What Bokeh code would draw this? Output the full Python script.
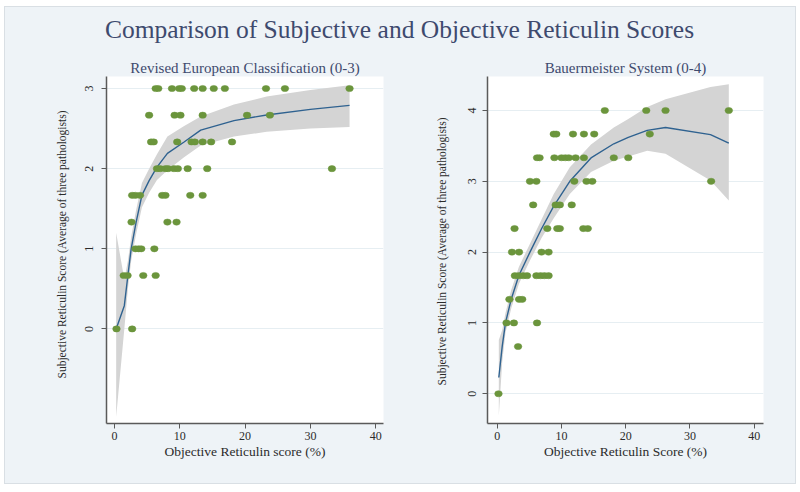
from bokeh.plotting import figure
from bokeh.layouts import column, row
from bokeh.models import ColumnDataSource, Title, Range1d, FixedTicker
from bokeh.embed import file_html
from bokeh.resources import INLINE
from bokeh.core.properties import value

# ---------------- texts ----------------
main_title = "Comparison of Subjective and Objective Reticulin Scores"
left_title = "Revised European Classification (0-3)"
right_title = "Bauermeister System (0-4)"
y_label = "Subjective Reticulin Score (Average of three pathologists)"
left_x_label = "Objective Reticulin score (%)"
right_x_label = "Objective Reticulin Score (%)"

x_ticks = [0, 10, 20, 30, 40]
left_y_ticks = [0, 1, 2, 3]
right_y_ticks = [0, 1, 2, 3, 4]

# ---------------- left panel data (Revised European, 0-3) ----------------
left_x = [6.3, 6.7, 8.8, 9.9, 10.3, 12.2, 13.5, 15.2, 16.9, 23.2, 26.1, 36.0,
          5.3, 9.2, 10.1, 13.5, 20.3, 23.8,
          5.6, 6.0, 9.6, 11.8, 12.3, 13.5, 14.8, 18.0,
          6.5, 7.0, 7.8, 8.2, 9.1, 9.7, 11.2, 14.2, 33.3,
          2.7, 3.2, 3.9, 7.3, 7.8, 11.6, 13.5,
          2.6, 8.1, 9.5,
          3.2, 3.7, 4.1, 6.1,
          1.4, 2.0, 4.4, 6.3,
          0.3, 2.7]
left_y = [3.0] * 12 + [2.667] * 6 + [2.333] * 8 + [2.0] * 9 + [1.667] * 7 + \
         [1.333] * 3 + [1.0] * 4 + [0.667] * 4 + [0.0] * 2

left_fit_x = [0.25, 1.5, 2.05, 2.55, 3.3, 4.2, 5.3, 6.5, 8.1, 10.6, 13.2, 18.3, 23.3, 30.0, 36.0]
left_fit_y = [0.0, 0.29, 0.67, 1.0, 1.33, 1.67, 1.85, 2.02, 2.19, 2.33, 2.48, 2.60, 2.67, 2.74, 2.79]
left_ci_lo = [-1.1, 0.0, 0.5, 0.85, 1.18, 1.52, 1.70, 1.86, 1.98, 2.14, 2.29, 2.40, 2.46, 2.50, 2.52]
left_ci_hi = [1.2, 0.62, 0.85, 1.15, 1.48, 1.82, 2.0, 2.18, 2.40, 2.53, 2.65, 2.80, 2.90, 2.98, 3.04]

# ---------------- right panel data (Bauermeister, 0-4) ----------------
right_x = [16.75, 23.2, 26.2, 36.05,
           8.8, 9.2, 11.8, 13.5, 15.1, 23.75,
           6.2, 6.6, 8.9, 10.0, 10.6, 11.15, 12.2, 13.5, 18.15, 20.4,
           5.1, 6.1, 12.0, 13.9, 14.8, 33.3,
           5.6, 9.1, 9.75, 11.6,
           2.7, 7.8, 9.35, 9.75, 13.4, 14.1,
           2.3, 3.4, 6.9, 8.0,
           2.75, 3.35, 4.05, 4.65, 6.1, 6.75, 7.35, 8.0,
           1.9, 3.4, 3.9,
           1.45, 2.6, 6.2,
           3.25,
           0.2]
right_y = [4.0] * 4 + [3.667] * 6 + [3.333] * 10 + [3.0] * 6 + [2.667] * 4 + \
          [2.333] * 6 + [2.0] * 4 + [1.667] * 8 + [1.333] * 3 + [1.0] * 3 + \
          [0.667] * 1 + [0.0] * 1

right_fit_x = [0.25, 0.78, 1.29, 2.17, 3.37, 5.1, 6.9, 8.8, 11.3, 14.6, 18.15, 20.4, 23.35, 26.2, 33.2, 36.05]
right_fit_y = [0.23, 0.67, 1.0, 1.33, 1.67, 2.0, 2.33, 2.65, 3.0, 3.33, 3.53, 3.62, 3.72, 3.76, 3.66, 3.54]
right_ci_lo = [-0.31, 0.45, 0.86, 1.2, 1.55, 1.88, 2.2, 2.48, 2.82, 3.13, 3.29, 3.35, 3.43, 3.39, 3.01, 2.73]
right_ci_hi = [0.76, 0.9, 1.14, 1.46, 1.79, 2.12, 2.46, 2.82, 3.2, 3.52, 3.76, 3.88, 4.05, 4.16, 4.33, 4.37]

# ---------------- style ----------------
BG = "#eef3f7"
SERIF = "Liberation Serif"
TITLE_COLOR = "#3e4a6e"
TEXT_COLOR = "#2b2b2b"
AXIS_COLOR = "#5a5a5a"
BAND_COLOR = "#d4d4d4"
LINE_COLOR = "#2f6290"
DOT_COLOR = "#6b953c"
GRID_COLOR = "#e6eef2"

# ---------------- title strip ----------------
top = figure(width=790, height=43, x_range=Range1d(0, 790), y_range=Range1d(0, 43),
             output_backend="svg", toolbar_location=None, min_border=0)
top.axis.visible = False
top.grid.visible = False
top.outline_line_color = None
top.background_fill_color = BG
top.border_fill_color = BG
top.text(x=[394], y=[21], text=[main_title], text_font=value(SERIF),
         text_font_size="25.5px", text_color=TITLE_COLOR,
         text_align="center", text_baseline="middle")


def make_panel(xs, ys, fx, fy, lo, hi, xr, yr, yticks, xlabel, ptitle,
               border_left, border_right, ylab_offset, ylab_standoff, tick_standoff):
    p = figure(width=395, height=433, x_range=Range1d(*xr), y_range=Range1d(*yr),
               output_backend="svg", toolbar_location=None,
               min_border_left=border_left, min_border_right=border_right,
               min_border_top=26, min_border_bottom=60)
    p.background_fill_color = "white"
    p.border_fill_color = BG
    p.outline_line_color = None

    p.title.text = ptitle
    p.title.align = "center"
    p.title.text_font = SERIF
    p.title.text_font_size = "15px"
    p.title.text_font_style = "normal"
    p.title.text_color = TITLE_COLOR
    p.title.standoff = 2

    p.varea(x=fx, y1=lo, y2=hi, fill_color=BAND_COLOR, fill_alpha=1.0)
    p.line(fx, fy, line_color=LINE_COLOR, line_width=1.4)
    src = ColumnDataSource(dict(x=xs, y=ys))
    p.ellipse(x="x", y="y", width=7.6, height=6.2, width_units="screen",
              height_units="screen", source=src, fill_color=DOT_COLOR,
              line_color=DOT_COLOR, line_width=0.5)

    p.xaxis.ticker = FixedTicker(ticks=x_ticks)
    p.yaxis.ticker = FixedTicker(ticks=yticks)
    p.xgrid.visible = False
    p.ygrid.grid_line_color = GRID_COLOR
    p.ygrid.grid_line_width = 1

    for ax in (p.xaxis[0], p.yaxis[0]):
        ax.axis_line_color = AXIS_COLOR
        ax.axis_line_width = 1.5
        ax.major_tick_line_color = AXIS_COLOR
        ax.major_tick_line_width = 1
        ax.major_tick_out = 5
        ax.major_tick_in = 0
        ax.minor_tick_line_color = None
        ax.major_label_text_font = SERIF
        ax.major_label_text_font_size = "12px"
        ax.major_label_text_color = TEXT_COLOR

    p.yaxis.major_label_orientation = "vertical"
    p.yaxis.major_label_standoff = tick_standoff
    p.xaxis.major_label_standoff = 3

    p.xaxis.axis_label = xlabel
    p.xaxis.axis_label_text_font = SERIF
    p.xaxis.axis_label_text_font_size = "13.5px"
    p.xaxis.axis_label_text_font_style = "normal"
    p.xaxis.axis_label_text_color = TEXT_COLOR
    p.xaxis.axis_label_standoff = 1

    # y-axis title, starting a little above the bottom of the plot frame
    ylab = Title(text=y_label, align="left", offset=ylab_offset,
                 standoff=ylab_standoff, text_font=SERIF, text_font_size="11.5px",
                 text_font_style="normal", text_color=TEXT_COLOR)
    p.add_layout(ylab, "left")
    return p


p1 = make_panel(left_x, left_y, left_fit_x, left_fit_y, left_ci_lo, left_ci_hi,
                (-1.23, 41.2), (-1.18, 3.15), left_y_ticks, left_x_label, left_title,
                101, 17, 45, 29, 8)
p2 = make_panel(right_x, right_y, right_fit_x, right_fit_y, right_ci_lo, right_ci_hi,
                (-1.51, 41.45), (-0.42, 4.48), right_y_ticks, right_x_label, right_title,
                87, 32, 38, 36, 6)

layout = column(top, row(p1, p2, spacing=0), spacing=0, margin=(7, 0, 0, 5),
                styles={"background-color": BG, "outline": "1px solid #d9dfe4"})

open("out.html", "w").write(file_html(layout, INLINE))
